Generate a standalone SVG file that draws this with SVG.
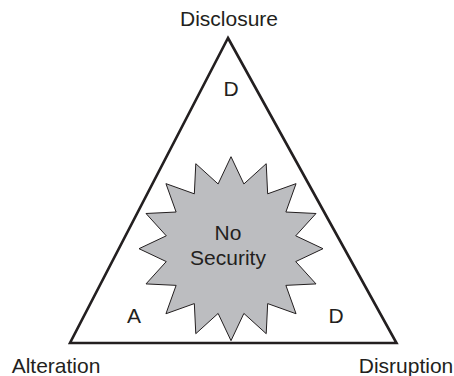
<svg xmlns="http://www.w3.org/2000/svg" width="454" height="376" viewBox="0 0 454 376">
<style>
text{font-family:"Liberation Sans",Arial,sans-serif;font-size:21px;fill:#231f20;text-anchor:middle}
.tri{fill:#ffffff;stroke:#231f20;stroke-width:2.6;stroke-linejoin:miter}
.star{fill:#bcbdc0;stroke:#231f20;stroke-width:1;stroke-linejoin:miter}
</style>
<rect width="454" height="376" fill="#ffffff"/>
<g id="triangle">
<polygon class="tri" points="228,38 396.5,343 70,343"/>
</g>
<g id="no-security">
<polygon class="star" points="231,156.7 243.88,183.97 266.21,163.7 267.67,193.82 296.05,183.65 285.88,212.03 316,213.49 295.73,235.82 323,248.7 295.73,261.58 316,283.91 285.88,285.37 296.05,313.75 267.67,303.58 266.21,333.7 243.88,313.43 231,340.7 218.12,313.43 195.79,333.7 194.33,303.58 165.95,313.75 176.12,285.37 146,283.91 166.27,261.58 139,248.7 166.27,235.82 146,213.49 176.12,212.03 165.95,183.65 194.33,193.82 195.79,163.7 218.12,183.97"/>
<text x="228" y="240">No</text>
<text x="228" y="265">Security</text>
</g>
<g id="disclosure">
<text x="229" y="26">Disclosure</text>
<text x="231" y="96">D</text>
</g>
<g id="alteration">
<text x="56" y="373">Alteration</text>
<text x="134" y="323">A</text>
</g>
<g id="disruption">
<text x="406" y="373">Disruption</text>
<text x="336" y="323">D</text>
</g>
<g id="connectors"></g>
</svg>
